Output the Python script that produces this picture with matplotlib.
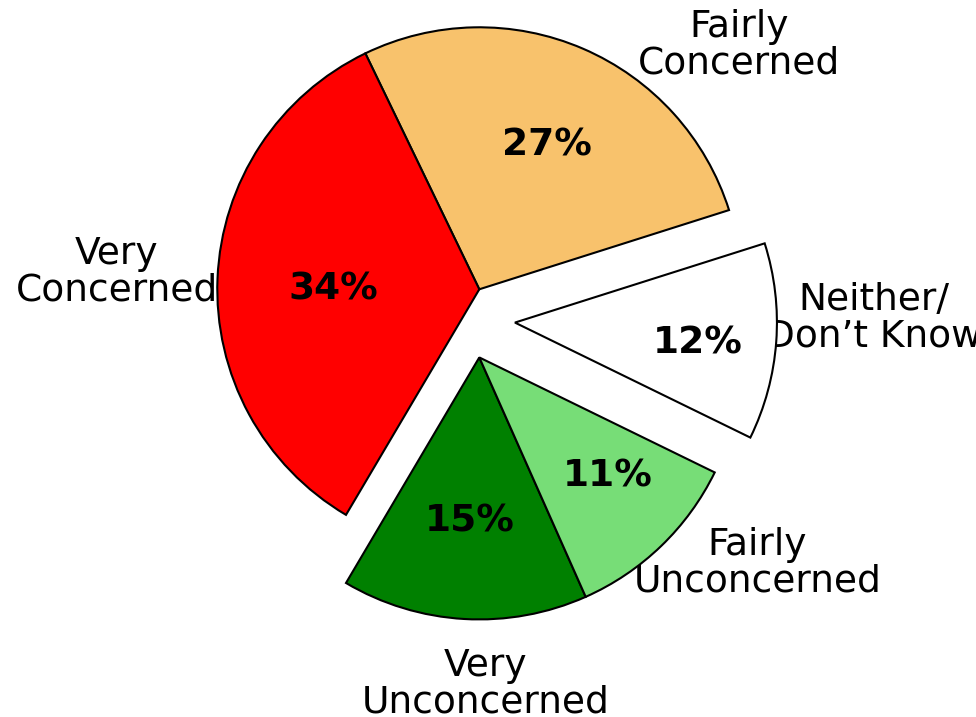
import matplotlib
matplotlib.use('Agg')
import matplotlib.pyplot as plt

# ---- data ----
categories = ['Fairly\nConcerned', 'Very\nConcerned', 'Very\nUnconcerned',
              'Fairly\nUnconcerned', 'Neither/\nDon\u2019t Know']
values = [27, 34, 15, 11, 12]
colors = ['#F8C26C', '#FF0000', '#008000', '#77DD77', '#FFFFFF']

# ---- layout (pixel geometry of the reference) ----
W, H, DPI = 976, 717, 100
R = 262.0                       # pie radius in px
CX, CY = 479.3, 289.3           # pie centre in px (from top-left)
# wedge offsets (in radius units): index -> (dx, dy)
offsets = {2: (0.0, -0.260), 3: (0.0, -0.260), 4: (0.136, -0.127)}
# percentage label anchors (px, centre-x / baseline)
pct_px = [(546.5, 155), (333.3, 300), (470, 531.7), (607.5, 486.7), (697.5, 353.3)]
# category label anchors (px, centre-x / last-line baseline)
lab_px = [(739.5, 74), (117, 301), (485.8, 712.7), (757.5, 591.7), (874, 347)]


def to_data(px, py):
    return (px - CX) / R, (CY - py) / R


fig = plt.figure(figsize=(W / DPI, H / DPI), dpi=DPI)
ax = fig.add_axes([0, 0, 1, 1])

wedges, _ = ax.pie(values, colors=colors, startangle=17.6, counterclock=True,
                   radius=1.0, frame=True,
                   wedgeprops=dict(edgecolor='black', linewidth=1.5))
ax.set_xlim(-CX / R, (W - CX) / R)
ax.set_ylim(-(H - CY) / R, CY / R)
ax.set_aspect('equal')
ax.axis('off')

for i, w in enumerate(wedges):
    if i in offsets:
        w.set_center(offsets[i])

total = sum(values)
for i, v in enumerate(values):
    x, y = to_data(*pct_px[i])
    ax.text(x, y, f'{100 * v / total:.0f}%', ha='center', va='baseline',
            fontsize=27, fontweight='bold', color='black', zorder=3)
    x, y = to_data(*lab_px[i])
    ax.text(x, y, categories[i], ha='center', va='baseline',
            multialignment='center', fontsize=27, color='black',
            linespacing=1.02, zorder=0.5)

fig.savefig('out.png', dpi=DPI)
